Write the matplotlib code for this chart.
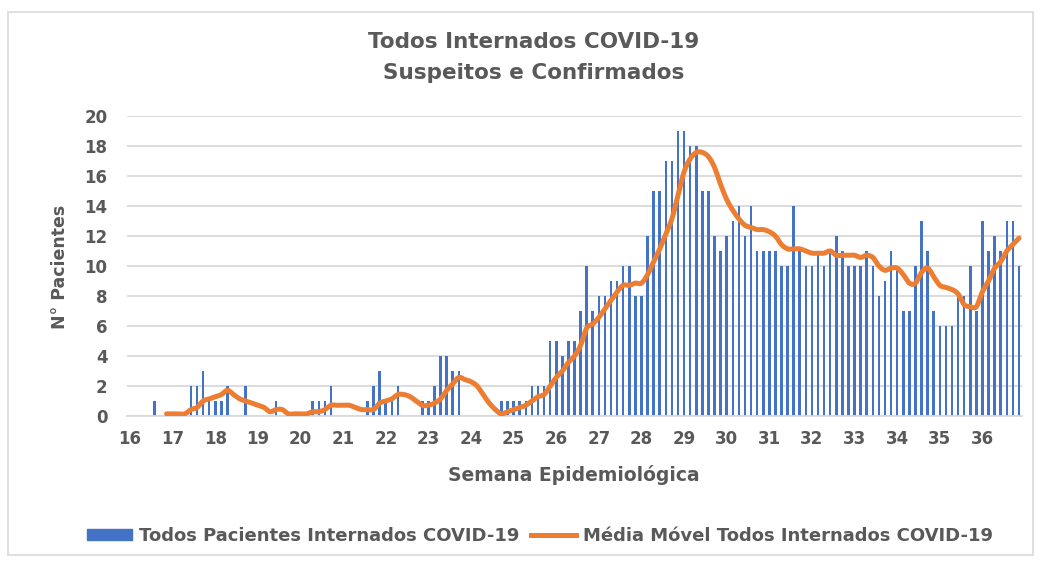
import pandas as pd
import numpy as np
import matplotlib
matplotlib.use('Agg')
import matplotlib.pyplot as plt
from matplotlib.patches import Rectangle
from matplotlib.lines import Line2D

# daily count of inpatients (one value per day, starting at week 16)
pacientes = [0, 0, 0, 0, 1, 0, 0, 0, 0, 0, 2, 2, 3, 1, 1, 1, 2, 0, 0, 2,
             0, 0, 0, 0, 1, 0, 0, 0, 0, 0, 1, 1, 1, 2, 0, 0, 0, 0, 0, 1,
             2, 3, 1, 1, 2, 0, 0, 0, 1, 1, 2, 4, 4, 3, 3, 0, 0, 0, 0, 0,
             0, 1, 1, 1, 1, 1, 2, 2, 2, 5, 5, 4, 5, 5, 7, 10, 7, 8, 8, 9,
             9, 10, 10, 8, 8, 12, 15, 15, 17, 17, 19, 19, 18, 18, 15, 15,
             12, 11, 12, 13, 14, 12, 14, 11, 11, 11, 11, 10, 10, 14, 11, 10,
             10, 11, 10, 11, 12, 11, 10, 10,
             10, 11, 10, 8, 9, 11, 10, 7, 7, 10, 13, 11, 7, 6, 6, 6, 8, 8,
             10, 7, 13, 11, 12, 11, 13, 13, 10]
semanas = list(range(16, 37))
yticks = list(range(0, 21, 2))

df = pd.DataFrame({'Pacientes': pacientes})
df['Media'] = df['Pacientes'].rolling(7).mean()  # 7-day moving average


def smooth(x, y, n=8):
    # Catmull-Rom spline through the points, like Excel's smoothed line
    x = np.asarray(x, float)
    y = np.asarray(y, float)
    px = np.concatenate([[x[0]], x, [x[-1]]])
    py = np.concatenate([[y[0]], y, [y[-1]]])
    t = np.linspace(0, 1, n, endpoint=False)
    xs, ys = [], []
    for i in range(1, len(px) - 2):
        for arr, out in ((px, xs), (py, ys)):
            p0, p1, p2, p3 = arr[i - 1], arr[i], arr[i + 1], arr[i + 2]
            out.extend(0.5 * (2 * p1 + (-p0 + p2) * t
                              + (2 * p0 - 5 * p1 + 4 * p2 - p3) * t ** 2
                              + (-p0 + 3 * p1 - 3 * p2 + p3) * t ** 3))
    xs.append(x[-1])
    ys.append(y[-1])
    return xs, ys


gray = '#595959'
blue = '#4472C4'
orange = '#ED7D31'

fig = plt.figure(figsize=(10.49, 5.63), dpi=100)
fig.patches.append(Rectangle((8 / 1049, 1 - 555 / 563), 1025 / 1049, 543 / 563,
                             transform=fig.transFigure, fill=False,
                             edgecolor='#d9d9d9', linewidth=1.2))

ax = fig.add_axes([127 / 1049, 1 - 416 / 563, 895 / 1049, 300 / 563])
ax.bar(df.index, df['Pacientes'], width=0.42, color=blue, zorder=2)
ma = df['Media'].dropna()
sx, sy = smooth(ma.index, ma.values)
ax.plot(sx, sy, color=orange, linewidth=3.6,
        solid_capstyle='round', solid_joinstyle='round', zorder=3)

ax.set_xlim(-0.5, len(pacientes) - 0.5)
ax.set_ylim(0, 20)
ax.set_yticks(yticks)
ax.set_xticks([7 * i for i in range(len(semanas))])
ax.set_xticklabels([str(s) for s in semanas])
ax.grid(axis='y', color='#d9d9d9', linewidth=1.3, zorder=0)
ax.set_axisbelow(True)
for side in ['top', 'right', 'left']:
    ax.spines[side].set_visible(False)
ax.spines['bottom'].set_color('#d9d9d9')
ax.spines['bottom'].set_linewidth(1.3)
ax.tick_params(axis='both', length=0, labelsize=12, labelcolor=gray)
ax.tick_params(axis='y', pad=14)
ax.tick_params(axis='x', pad=10)
for lab in ax.get_xticklabels() + ax.get_yticklabels():
    lab.set_fontweight('bold')

fig.text(534 / 1049, 1 - 42 / 563, 'Todos Internados COVID-19', ha='center', va='center',
         fontsize=15.5, fontweight='bold', color=gray)
fig.text(534 / 1049, 1 - 73 / 563, 'Suspeitos e Confirmados', ha='center', va='center',
         fontsize=15.5, fontweight='bold', color=gray)
fig.text(60 / 1049, 1 - 267 / 563, 'N° Pacientes', rotation=90, ha='center', va='center',
         fontsize=12.5, fontweight='bold', color=gray)
fig.text(574 / 1049, 1 - 475 / 563, 'Semana Epidemiológica', ha='center', va='center',
         fontsize=13.5, fontweight='bold', color=gray)

handles = [Rectangle((0, 0), 1, 1, color=blue),
           Line2D([0], [0], color=orange, linewidth=3.6)]
labels = ['Todos Pacientes Internados COVID-19', 'Média Móvel Todos Internados COVID-19']
leg = fig.legend(handles, labels, loc='center', bbox_to_anchor=(540 / 1049, 1 - 536 / 563),
                 ncol=2, frameon=False, handlelength=2.5, handleheight=0.55,
                 columnspacing=0.6, handletextpad=0.4,
                 prop={'size': 13, 'weight': 'bold'})
for t in leg.get_texts():
    t.set_color(gray)

plt.savefig('out.png', dpi=100)
